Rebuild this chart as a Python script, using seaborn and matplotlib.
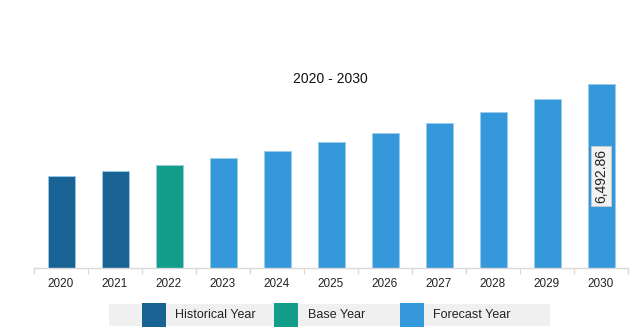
import matplotlib
matplotlib.use("Agg")
import matplotlib.pyplot as plt
from matplotlib.patches import Rectangle
import seaborn as sns
import pandas as pd

# Market size by year
years = ["2020", "2021", "2022", "2023", "2024", "2025",
         "2026", "2027", "2028", "2029", "2030"]
values = [3236, 3434, 3646, 3871, 4140, 4436,
          4764, 5117, 5516, 5975, 6492.86]
periods = ["Historical Year", "Historical Year", "Base Year",
           "Forecast Year", "Forecast Year", "Forecast Year",
           "Forecast Year", "Forecast Year", "Forecast Year",
           "Forecast Year", "Forecast Year"]
legend_labels = ["Historical Year", "Base Year", "Forecast Year"]
colors = ["#196394", "#129e8a", "#3498db"]
title = "2020 - 2030"

sns.set_theme(style="white")
plt.rcParams["font.family"] = ["Liberation Sans", "DejaVu Sans"]

df = pd.DataFrame({"year": years, "value": values, "period": periods})
palette = dict(zip(legend_labels, colors))

W, H = 632, 335
fig = plt.figure(figsize=(W / 100, H / 100), dpi=100)
ax = fig.add_axes([34 / W, (H - 268) / H, 594 / W, 198.4 / H])

sns.barplot(data=df, x="year", y="value", hue="period", palette=palette,
            dodge=False, width=0.5, legend=False, saturation=1,
            edgecolor="#9ccbe8", linewidth=0.6, ax=ax)

ax.set_xlim(-0.5, len(years) - 0.5)
ax.set_ylim(0, 7000)
ax.set_xlabel("")
ax.set_ylabel("")
ax.set_yticks([])
for side in ["top", "right", "left"]:
    ax.spines[side].set_visible(False)
ax.spines["bottom"].set_color("#d9d9d9")
ax.spines["bottom"].set_linewidth(1.0)

# tick marks sit on the boundaries between categories
ax.set_xticks([i - 0.5 for i in range(len(years) + 1)], minor=True)
ax.tick_params(axis="x", which="minor", length=4, width=1, color="#d9d9d9",
               direction="out", bottom=True)
ax.tick_params(axis="x", which="major", length=0, pad=7, labelsize=8.5,
               labelcolor="#222222")

# value label on the final bar
last = len(years) - 1
ax.text(last, values[last] / 2, f"{values[last]:,.2f}", rotation=90,
        ha="center", va="center", fontsize=10, color="#222222",
        bbox=dict(boxstyle="square,pad=0.22", facecolor="#f2f2f2",
                  edgecolor="#cccccc", linewidth=0.6))

fig.text(330 / W, 1 - 79 / H, title, ha="center", va="center",
         fontsize=10, color="#111111")

# legend strip
fig.patches.append(Rectangle((109 / W, 1 - 326 / H), 441 / W, 22 / H,
                             transform=fig.transFigure, facecolor="#f0f0f0",
                             edgecolor="none", zorder=0))
patch_x = [142, 274, 400]
text_x = [175, 308, 433]
for px, tx, lab, col in zip(patch_x, text_x, legend_labels, colors):
    fig.patches.append(Rectangle((px / W, 1 - 327 / H), 24 / W, 24 / H,
                                 transform=fig.transFigure, facecolor=col,
                                 edgecolor="none", zorder=1))
    fig.text(tx / W, 1 - 315 / H, lab, ha="left", va="center",
             fontsize=9, color="#222222")

fig.savefig("out.png", dpi=100)
